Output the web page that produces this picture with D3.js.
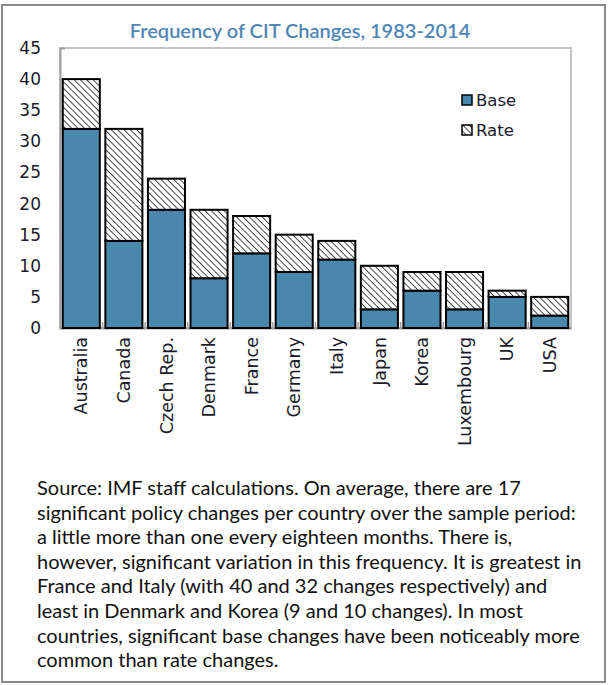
<!DOCTYPE html>
<html><head><meta charset="utf-8">
<script src="https://cdn.jsdelivr.net/npm/d3@7"></script>
<style>body{margin:0;background:#fff}svg{display:block}</style>
</head><body>
<script>
const categories = ["Australia","Canada","Czech Rep.","Denmark","France","Germany","Italy","Japan","Korea","Luxembourg","UK","USA"];
const baseValues = [32,14,19,8,12,9,11,3,6,3,5,2];
const rateValues = [8,18,5,11,6,6,3,7,3,6,1,3];
const yTicks = [0,5,10,15,20,25,30,35,40,45];
const seriesNames = ["Base","Rate"];
const title = "Frequency of CIT Changes, 1983-2014";
const captionLines = [
 "Source: IMF staff calculations. On average, there are 17",
 "significant policy changes per country over the sample period:",
 "a little more than one every eighteen months. There is,",
 "however, significant variation in this frequency. It is greatest in",
 "France and Italy (with 40 and 32 changes respectively) and",
 "least in Denmark and Korea (9 and 10 changes). In most",
 "countries, significant base changes have been noticeably more",
 "common than rate changes."
];

const W=608,H=685;
const svg=d3.select("body").append("svg").attr("width",W).attr("height",H);
const defs=svg.append("defs");
const pat=defs.append("pattern").attr("id","hatch").attr("patternUnits","userSpaceOnUse")
  .attr("width",4.5).attr("height",4.5).attr("patternTransform","rotate(-45)");
pat.append("rect").attr("width",4.5).attr("height",4.5).attr("fill","#fff");
pat.append("line").attr("x1",0).attr("y1",0).attr("x2",0).attr("y2",4.5).attr("stroke","#000").attr("stroke-width",1.4);

// outer frame
svg.append("rect").attr("x",2).attr("y",5).attr("width",603).attr("height",677)
  .attr("fill","none").attr("stroke","#8a8a8a").attr("stroke-width",2);

const L=60,R=571,T=48,B=328;
const x=d3.scaleBand().domain(categories).range([L,R]).paddingInner(0.13).paddingOuter(0.065);
const y=d3.scaleLinear().domain([0,45]).range([B,T]);

// plot area border
svg.append("rect").attr("x",L).attr("y",T).attr("width",R-L).attr("height",B-T)
  .attr("fill","none").attr("stroke","#c4c4c4").attr("stroke-width",2);

// title
svg.append("text").attr("x",300).attr("y",38).attr("text-anchor","middle")
  .attr("font-family","Lato, 'Open Sans', sans-serif").attr("font-size",20).attr("font-weight",600)
  .attr("fill","#4f86b6").text(title);

// y axis
const yAxis=d3.axisLeft(y).tickValues(yTicks).tickSize(-5).tickPadding(19);
const gy=svg.append("g").attr("transform",`translate(${L},0)`).call(yAxis);
gy.select(".domain").attr("stroke","#a0a0a0").attr("stroke-width",2);
gy.selectAll(".tick line").attr("stroke","#a0a0a0");
gy.selectAll("text").attr("font-family","'DejaVu Sans', sans-serif").attr("font-size",17).attr("fill","#1a1a2a");

// x axis
const xAxis=d3.axisBottom(x).tickSize(0).tickPadding(0);
const gx=svg.append("g").attr("transform",`translate(0,${B})`).call(xAxis);
gx.select(".domain").attr("stroke","#a0a0a0").attr("stroke-width",2);
gx.selectAll("text").attr("font-family","'DejaVu Sans', sans-serif").attr("font-size",17.5).attr("fill","#1a1a2a")
  .attr("text-anchor","end").attr("dy","0.35em").attr("transform","translate(0,9) rotate(-90)");
// category separator ticks
const step=x.step();
gx.selectAll(".sep").data(categories.slice(1)).enter().append("line")
  .attr("x1",d=>x(d)-x.paddingInner()*step/2).attr("x2",d=>x(d)-x.paddingInner()*step/2)
  .attr("y1",0).attr("y2",-6).attr("stroke","#a0a0a0").attr("stroke-width",1.5);

// bars
const data=categories.map((c,i)=>({c,base:baseValues[i],rate:rateValues[i]}));
const g=svg.append("g");
g.selectAll(".base").data(data).enter().append("rect")
  .attr("x",d=>x(d.c)).attr("width",x.bandwidth())
  .attr("y",d=>y(d.base)).attr("height",d=>y(0)-y(d.base))
  .attr("fill","#4a87ad").attr("stroke","#000").attr("stroke-width",2);
g.selectAll(".rate").data(data).enter().append("rect")
  .attr("x",d=>x(d.c)).attr("width",x.bandwidth())
  .attr("y",d=>y(d.base+d.rate)).attr("height",d=>y(d.base)-y(d.base+d.rate))
  .attr("fill","url(#hatch)").attr("stroke","#000").attr("stroke-width",2);

// legend
const leg=svg.append("g").attr("transform","translate(462,95)");
seriesNames.forEach((s,i)=>{
  const gi=leg.append("g").attr("transform",`translate(0,${i*30})`);
  gi.append("rect").attr("width",10).attr("height",10)
    .attr("fill",i===0?"#4a87ad":"url(#hatch)").attr("stroke","#000").attr("stroke-width",1.5);
  gi.append("text").attr("x",14).attr("y",5).attr("dy","0.35em")
    .attr("font-family","'DejaVu Sans', sans-serif").attr("font-size",16.5).attr("fill","#1a1a2a").text(s);
});

// caption
const cap=svg.append("text").attr("font-family","Lato, 'Open Sans', sans-serif").attr("font-size",20).attr("fill","#111");
captionLines.forEach((t,i)=>{
  cap.append("tspan").attr("x",37).attr("y",495+i*24.6).text(t);
});
</script>
</body></html>
